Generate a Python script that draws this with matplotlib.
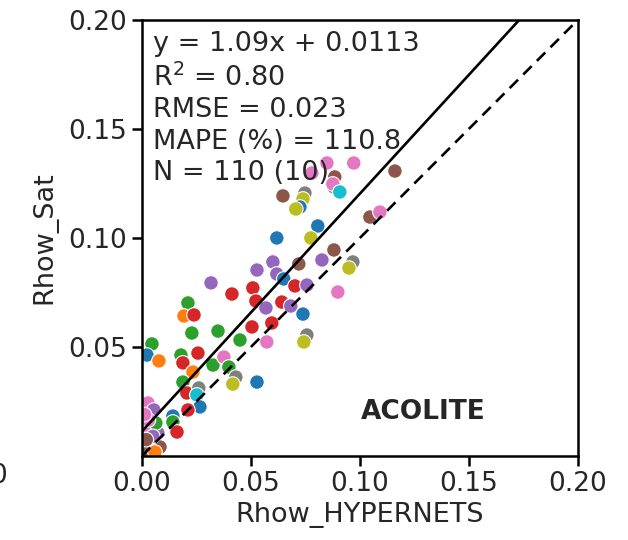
import numpy as np
import matplotlib
matplotlib.use('Agg')
from matplotlib import pyplot as plt

# values (Rhow_HYPERNETS vs Rhow_Sat), colour group = tab10 index
x_hyp = [0.0849, 0.0972, 0.0780, 0.0885, 0.1161, 0.0647, 0.0748, 0.0739, 0.0725, 0.0706,
         0.0881, 0.0876, 0.0908, 0.1046, 0.1092, 0.0807, 0.0775, 0.0619, 0.0881, 0.0968,
         0.0950, 0.0826, 0.0720, 0.0601, 0.0528, 0.0619, 0.0651, 0.0317, 0.0413, 0.0509,
         0.0523, 0.0702, 0.0757, 0.0899, 0.0569, 0.0642, 0.0683, 0.0739, 0.0505, 0.0596,
         0.0573, 0.0757, 0.0743, 0.0211, 0.0193, 0.0239, 0.0229, 0.0349, 0.0450, 0.0046,
         0.0023, 0.0078, 0.0179, 0.0188, 0.0257, 0.0326, 0.0376, 0.0399, 0.0234, 0.0431,
         0.0417, 0.0528, 0.0188, 0.0206, 0.0261, 0.0252, 0.0266, 0.0211, 0.0028, 0.0055,
         0.0142, 0.0142, 0.0161, 0.0037, 0.0073, 0.0028, 0.0041, 0.0083, 0.0018, 0.0060,
         0.0064, 0.0050, 0.0030, 0.0012, 0.0020]
y_sat = [0.1344, 0.1344, 0.1298, 0.1280, 0.1307, 0.1193, 0.1206, 0.1179, 0.1142, 0.1133,
         0.1234, 0.1248, 0.1211, 0.1096, 0.1119, 0.1055, 0.1000, 0.1000, 0.0945, 0.0890,
         0.0862, 0.0899, 0.0881, 0.0890, 0.0853, 0.0835, 0.0812, 0.0794, 0.0743, 0.0771,
         0.0711, 0.0780, 0.0784, 0.0752, 0.0679, 0.0706, 0.0688, 0.0651, 0.0592, 0.0610,
         0.0523, 0.0555, 0.0523, 0.0702, 0.0642, 0.0647, 0.0564, 0.0573, 0.0532, 0.0514,
         0.0463, 0.0436, 0.0463, 0.0427, 0.0472, 0.0417, 0.0454, 0.0408, 0.0385, 0.0362,
         0.0330, 0.0339, 0.0339, 0.0289, 0.0312, 0.0280, 0.0225, 0.0211, 0.0243, 0.0211,
         0.0183, 0.0156, 0.0110, 0.0133, 0.0106, 0.0106, 0.0060, 0.0041, 0.0028, 0.0018,
         0.0151, 0.0090, 0.0165, 0.0190, 0.0075]
group = [6, 6, 6, 5, 5, 5, 7, 8, 0, 8,
         7, 6, 9, 5, 6, 0, 8, 0, 5, 7,
         8, 4, 5, 4, 4, 4, 0, 4, 3, 3,
         3, 3, 4, 6, 4, 3, 4, 0, 3, 3,
         6, 7, 8, 2, 1, 3, 2, 2, 2, 2,
         0, 1, 2, 3, 3, 2, 6, 2, 1, 7,
         8, 0, 2, 3, 7, 9, 0, 3, 6, 4,
         0, 2, 3, 5, 4, 6, 4, 5, 5, 1,
         2, 4, 6, 6, 5]

fit_slope = 1.09
fit_icpt = 0.0113
stats_lines = ['y = 1.09x + 0.0113', 'R$^2$ = 0.80', 'RMSE = 0.023',
               'MAPE (%) = 110.8', 'N = 110 (10)']
proc_name = 'ACOLITE'
ticks = [0.00, 0.05, 0.10, 0.15, 0.20]

txt_col = '#262626'
plt.rcParams['font.family'] = 'DejaVu Sans'
plt.rcParams['font.size'] = 19
plt.rcParams['text.color'] = txt_col
plt.rcParams['axes.labelcolor'] = txt_col
plt.rcParams['xtick.labelcolor'] = txt_col
plt.rcParams['ytick.labelcolor'] = txt_col

fig = plt.figure(figsize=(6.28, 5.40), dpi=100)
ax = fig.add_axes([0.226, 0.1556, 0.694, 0.8074])

pal = plt.get_cmap('tab10').colors
cols = [pal[g] for g in group]
ax.scatter(x_hyp, y_sat, c=cols, s=110, edgecolors='white', linewidths=0.8, zorder=2)

lim = np.array([0.0, 0.2])
ax.plot(lim, lim, color='black', linestyle=(0, (4.5, 2.8)), linewidth=1.9, zorder=3)
ax.plot(lim, fit_slope * lim + fit_icpt, color='black', linewidth=1.9, zorder=3)

ax.text(0.025, 0.975, '\n'.join(stats_lines), transform=ax.transAxes,
        va='top', ha='left', fontsize=19.5, linespacing=1.28)
ax.text(0.645, 0.10, proc_name, transform=ax.transAxes, fontsize=19,
        fontweight='bold', ha='center', va='center')

ax.set_xlim(0, 0.2)
ax.set_ylim(0, 0.2)
ax.set_xticks(ticks)
ax.set_xticklabels([f'{t:.2f}' for t in ticks])
ax.set_yticks(ticks[1:])
ax.set_yticklabels([f'{t:.2f}' for t in ticks[1:]])
ax.tick_params(labelsize=19, width=1.8, length=7)
for sp in ax.spines.values():
    sp.set_linewidth(1.8)

ax.set_xlabel('Rhow_HYPERNETS', fontsize=19.5, labelpad=4)
ax.set_ylabel('Rhow_Sat', fontsize=19.5, labelpad=8)

# fragment of a neighbouring panel's label, cut by the crop
fig.text(-0.015, 0.118, '0', fontsize=19, ha='left', va='center')

fig.savefig('out.png', dpi=100, facecolor='w')
